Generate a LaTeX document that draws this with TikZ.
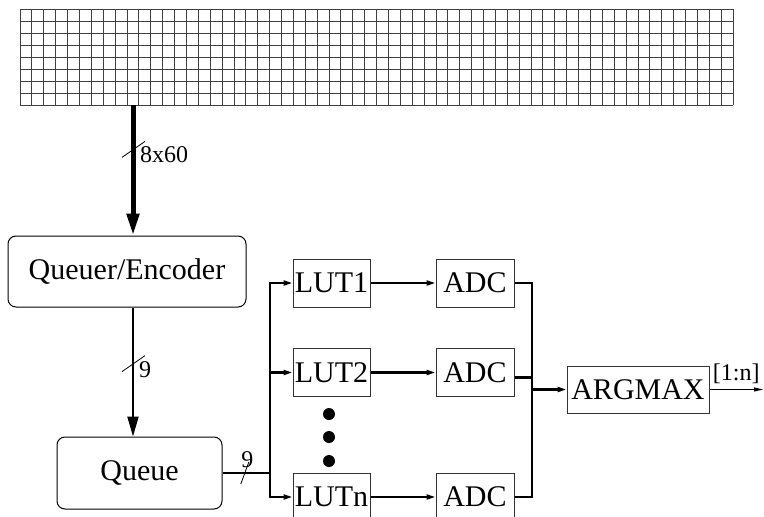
\documentclass[tikz,border=0pt]{standalone}
\usepackage{fontspec}
\setmainfont{Liberation Serif}
\usetikzlibrary{arrows.meta,positioning}

\begin{document}
\begin{tikzpicture}[x=1pt, y=-1pt,
    font=\fontsize{30}{36}\selectfont,
    cell/.style={draw=black!75, line width=0.8pt},
    roundbox/.style={rectangle, rounded corners=8pt, draw, line width=1pt,
                     inner sep=0pt, align=center},
    unitbox/.style={rectangle, draw=black!80, line width=1pt, inner sep=0pt,
                    minimum height=48pt, align=center},
    dotnode/.style={circle, fill, inner sep=0pt, minimum size=12pt},
    buslbl/.style={font=\fontsize{24}{28}\selectfont, inner sep=0pt},
    wire/.style={line width=2.2pt},
    arr/.style={-{Triangle[length=9pt, width=5pt]}},
    thinarr/.style={-{Triangle[length=9pt, width=4pt]}, line width=1pt},
    busarr/.style={-{Triangle[length=22pt, width=12pt]}, line width=5pt},
    slash/.style={line width=0.8pt}
  ]
    \clip (0,0) rectangle (764,517);
    \useasboundingbox (0,0) rectangle (764,517);

    % input array
    \foreach \i in {0,...,60}
      \draw[cell] ({20+\i*11.8833},9) -- ({20+\i*11.8833},105);
    \foreach \j in {0,...,8}
      \draw[cell] (20,{9+12*\j}) -- (733,{9+12*\j});
    \coordinate (gout) at (133,105);

    % front end
    \node[roundbox, minimum width=238pt, minimum height=71pt] (enc) at (127,271.5) {Queuer/Encoder};
    \node[roundbox, minimum width=165pt, minimum height=72pt] (queue) at (139.5,473) {Queue};

    \draw[busarr] (gout) -- (enc.north -| gout) coordinate[pos=0.34] (s1);
    \draw[slash] ([xshift=-11pt,yshift=-8pt]s1) -- ([xshift=12pt,yshift=8pt]s1);
    \node[buslbl, anchor=west] (lbl1) at ([xshift=7pt,yshift=-5pt]s1) {8x60};

    \draw[wire, -{Triangle[length=20pt, width=11pt]}] (enc.south -| gout) -- (queue.north -| gout) coordinate[pos=0.435] (s2);
    \draw[slash] ([xshift=-11pt,yshift=-8pt]s2) -- ([xshift=12pt,yshift=8pt]s2);
    \node[buslbl, anchor=west] (lbl2) at ([xshift=6pt,yshift=-6pt]s2) {9};

    % lookup tables
    \node[unitbox, minimum width=77pt] (lut1) at (331.5,283)   {LUT1};
    \node[unitbox, minimum width=77pt] (lut2) at (331.5,372.5) {LUT2};
    \node[unitbox, minimum width=77pt] (lutn) at (331.5,497)   {LUTn};
    \node[dotnode] (d1) at (329,414) {};
    \node[dotnode] (d2) at (329,437) {};
    \node[dotnode] (d3) at (329,461) {};

    \coordinate (split) at (270,473);
    \draw[wire] (queue.east) -- (split) coordinate[pos=0.47] (s3);
    \draw[slash] ([xshift=-4pt,yshift=-11pt]s3) -- ([xshift=4pt,yshift=11pt]s3);
    \node[buslbl, anchor=south] (lbl3) at ([xshift=2.5pt,yshift=5pt]s3) {9};
    \draw[wire, arr] (split) |- (lut1.west);
    \draw[wire, arr] (split) |- (lut2.west);
    \draw[wire, arr] (split) |- (lutn.west);

    % converters
    \node[unitbox, minimum width=78pt] (adc1) at (475,283)   {ADC};
    \node[unitbox, minimum width=78pt] (adc2) at (475,372.5) {ADC};
    \node[unitbox, minimum width=78pt] (adcn) at (475,497)   {ADC};
    \draw[wire, arr] (lut1) -- (adc1);
    \draw[wire, arr] (lut2) -- (adc2);
    \draw[wire, arr] (lutn) -- (adcn);

    % decision
    \node[unitbox, minimum width=142pt, minimum height=47pt] (argmax) at (638,389.5) {ARGMAX};
    \coordinate (merge) at (532,389.5);
    \draw[wire] (adc1.east) -| (merge);
    \draw[wire] ([yshift=-5pt]adc2.east) -| (merge);
    \draw[wire] (adcn.east) -| (merge);
    \draw[wire, arr] (merge) -- (argmax.west);

    \coordinate (out) at (763,389.5);
    \draw[thinarr] (argmax.east) -- (out) node[buslbl, midway, above=5pt] (outlbl) {[1:n]};
  \end{tikzpicture}
\end{document}
